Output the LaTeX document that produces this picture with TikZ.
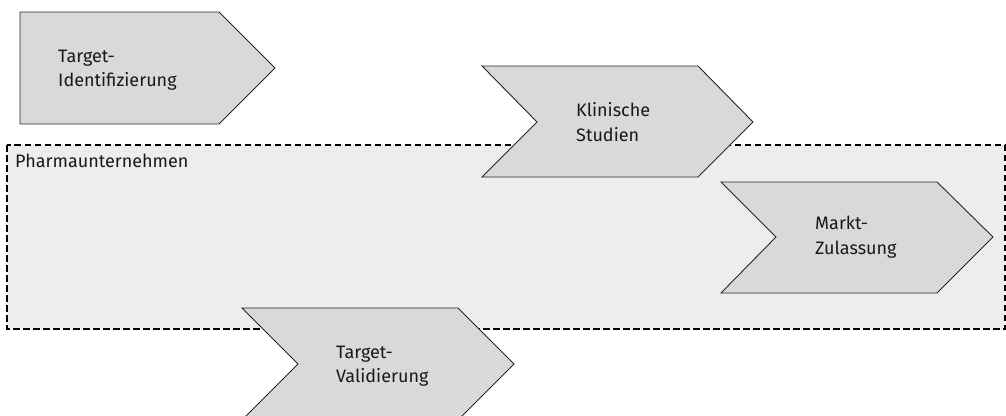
\documentclass[tikz,border=0pt]{standalone}
\usepackage{fontspec}
\setmainfont{Fira Sans}
\definecolor{shapefill}{HTML}{D9D9D9}
\definecolor{groupfill}{HTML}{EDEDED}
\definecolor{edgecol}{HTML}{262626}
\tikzset{
  groupbox/.style={draw=black, fill=groupfill, line width=1.1pt, dash pattern=on 6.5pt off 3.5pt},
  stepshape/.style={draw=edgecol, fill=shapefill, line width=0.9pt, line join=miter},
  steptext/.style={anchor=west, align=left, inner sep=0pt, font=\fontsize{18}{24.5}\selectfont, text=black!90},
  grouptext/.style={anchor=base west, inner sep=0pt, font=\fontsize{18}{24}\selectfont, text=black!90}
}
\begin{document}
\begin{tikzpicture}[x=1pt,y=-1pt]
\useasboundingbox (0,0) rectangle (1006,415);
\clip (0,0) rectangle (1006,415);
% group box
\draw[groupbox] (7,145) rectangle (1005,329);
\node[grouptext] (grouplabel) at (15,167) {Pharmaunternehmen};
% step 1: pentagon
\draw[stepshape] (20,12) -- (219,12) -- (275,68) -- (219,124) -- (20,124) -- cycle;
\node[steptext] (ident) at (58,70) {Target-\\Identifizierung};
% step 2
\draw[stepshape] (482,66) -- (698,66) -- (753,122) -- (698,177) -- (482,177) -- (537,122) -- cycle;
\node[steptext] (klin) at (576,122) {Klinische\\Studien};
% step 3
\draw[stepshape] (721,182) -- (937,182) -- (993,237) -- (937,293) -- (721,293) -- (776,237) -- cycle;
\node[steptext] (markt) at (815,237) {Markt-\\Zulassung};
% step 4
\draw[stepshape] (242,308) -- (458,308) -- (514,364) -- (458,420) -- (242,420) -- (298,364) -- cycle;
\node[steptext] (valid) at (336,366) {Target-\\Validierung};
\end{tikzpicture}
\end{document}
